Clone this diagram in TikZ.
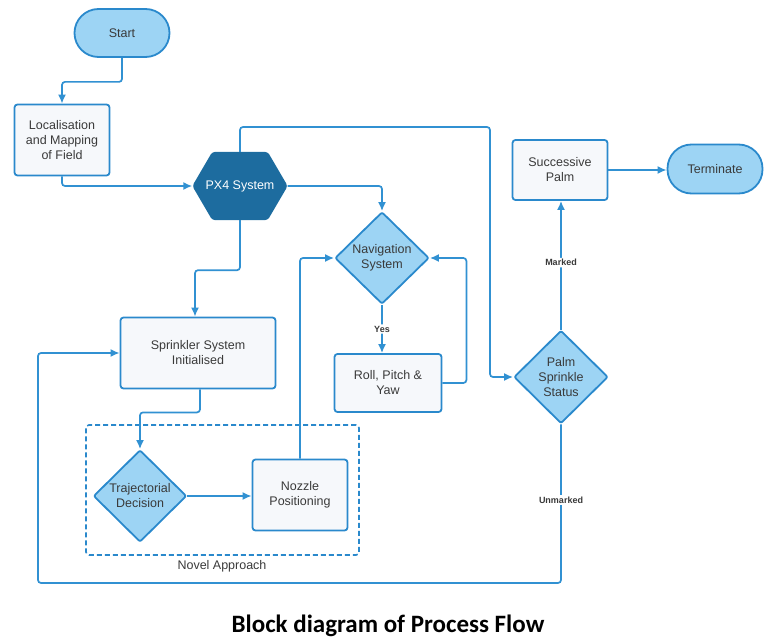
\documentclass[tikz,border=0pt]{standalone}
\usepackage{fontspec}
\setmainfont{Liberation Sans}
\newfontfamily\titlefont{Carlito}
\usetikzlibrary{arrows.meta,shapes.geometric,calc}
\definecolor{lineblue}{HTML}{3191D2}
\definecolor{edgeblue}{HTML}{2A89CC}
\definecolor{lightfill}{HTML}{9DD4F4}
\definecolor{boxfill}{HTML}{F6F8FB}
\definecolor{hexfill}{HTML}{1D6C9F}
\definecolor{txt}{HTML}{3A3A3A}
\tikzset{
  base/.style={font=\fontsize{12.5}{15}\selectfont, text=txt, align=center, line width=1.8pt, draw=edgeblue},
  pill/.style={base, fill=lightfill, rounded corners=24pt, minimum width=95pt, minimum height=48pt},
  procbox/.style={base, fill=boxfill, rounded corners=3pt},
  decision/.style={base, diamond, aspect=1, fill=lightfill, inner sep=0pt, rounded corners=2pt},
  conn/.style={draw=lineblue, line width=1.7pt, rounded corners=3pt, -{Latex[length=9pt,width=8pt]}},
  lbl/.style={font=\bfseries\fontsize{9}{10}\selectfont, text=txt, fill=white, inner sep=1.5pt},
}
\begin{document}
\begin{tikzpicture}[x=1pt,y=-1pt]
\useasboundingbox (0,0) rectangle (765,639);

% nodes
\node[pill] (start) at (122,33) {Start};
\node[procbox, minimum width=95pt, minimum height=71pt] (loc) at (62,140) {Localisation\\and Mapping\\of Field};
\node[minimum width=95pt, minimum height=68pt, inner sep=0pt] (px4) at (240,186) {};
\fill[hexfill, rounded corners=3pt] (px4.west) -- ($(px4.north west)+(20,0)$) -- ($(px4.north east)+(-20,0)$) -- (px4.east) -- ($(px4.south east)+(-20,0)$) -- ($(px4.south west)+(20,0)$) -- cycle;
\node[font=\fontsize{12.5}{15}\selectfont, text=white] (px4txt) at (px4.center) {PX4 System};
\node[decision, minimum width=94pt, minimum height=92pt] (nav) at (382,258) {Navigation\\System};
\node[procbox, minimum width=107pt, minimum height=58pt] (roll) at (388,383) {Roll, Pitch \&\\Yaw};
\node[procbox, minimum width=155pt, minimum height=71pt] (spr) at (198,353) {Sprinkler System\\Initialised};
\node[draw=edgeblue, line width=1.6pt, dashed, dash pattern=on 5pt off 3pt, rounded corners=3pt, minimum width=273pt, minimum height=130pt] (novel) at (222.5,490) {};
\node[font=\fontsize{12.5}{15}\selectfont, text=txt] (novellbl) at (222,566) {Novel Approach};
\node[decision, minimum width=93pt, minimum height=92pt] (traj) at (140,496) {Trajectorial\\Decision};
\node[procbox, minimum width=95pt, minimum height=71pt] (noz) at (300,495) {Nozzle\\Positioning};
\node[procbox, minimum width=95pt, minimum height=60pt] (succ) at (560,170) {Successive\\Palm};
\node[pill, minimum height=49pt] (term) at (715,169) {Terminate};
\node[decision, minimum width=94pt, minimum height=93pt] (pss) at (561,377) {Palm\\Sprinkle\\Status};

\coordinate (k1) at (490,127);
\coordinate (k2) at (38,583);

% connectors
\draw[conn] (start.south) -- ++(0,24) -| (loc.north);
\draw[conn] (loc.south) |- (px4.west);
\draw[conn] (px4.north) |- (k1) |- (pss.west);
\draw[conn] (px4.east) -| (nav.north);
\draw[conn] (px4.south) -- ++(0,50) -| ([xshift=-3pt]spr.north);
\draw[conn] (nav.south) -- node[lbl] (yes) {Yes} (nav.south |- roll.north);
\draw[conn] (roll.east) -- ++(24,0) |- (nav.east);
\draw[conn] (noz.north) |- (nav.west);
\draw[conn] ([xshift=2pt]spr.south) -- ++(0,23) -| (traj.north);
\draw[conn] (traj.east) -- (traj.east -| noz.west);
\draw[conn] (pss.north) -- node[lbl, pos=0.52] (marked) {Marked} (pss.north |- succ.south);
\draw[conn] (succ.east) -- (succ.east -| term.west);
\draw[conn] (pss.south) |- (k2) |- (spr.west);
\node[lbl] (unmarked) at (561,500) {Unmarked};

% title
\node[font=\titlefont\bfseries\fontsize{25}{28}\selectfont, text=black] (title) at (388,626) {Block diagram of Process Flow};
\end{tikzpicture}
\end{document}
